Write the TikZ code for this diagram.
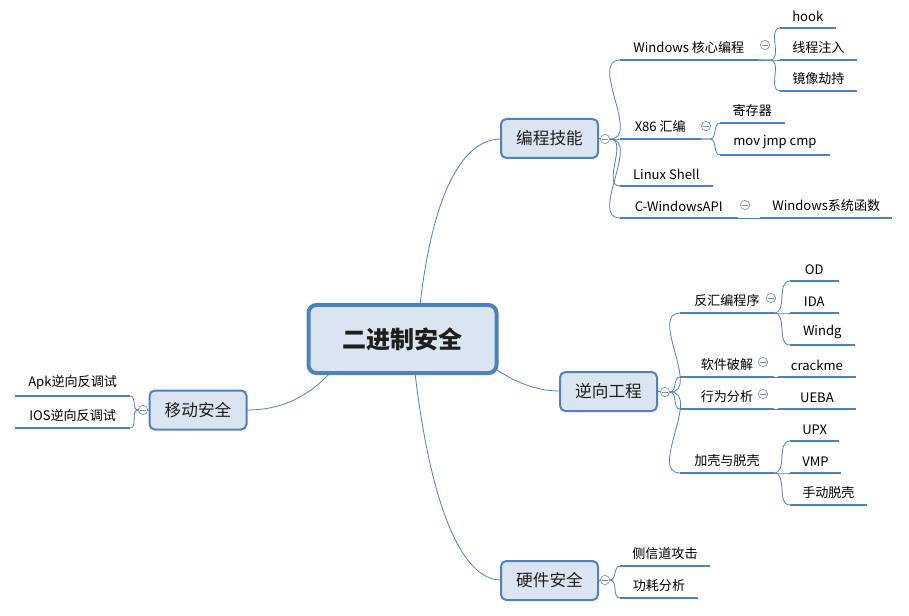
\documentclass[tikz,border=0pt]{standalone}
\usepackage{fontspec}
\setmainfont{Noto Sans CJK SC}
\definecolor{bl}{RGB}{79,129,189}
\definecolor{tg}{RGB}{120,150,190}
\definecolor{bf}{RGB}{219,229,241}
\definecolor{tx}{RGB}{30,30,30}
\begin{document}
\begin{tikzpicture}[x=0.75pt,y=-0.75pt,
  box/.style={draw=bl,line width=1.5pt,fill=bf,rounded corners=4pt,minimum width=72.75pt,minimum height=29.25pt,inner sep=0pt,font=\fontsize{12.5}{14}\selectfont,text=tx},
  leaf/.style={anchor=south west,inner xsep=9pt,inner ysep=4.5pt,align=left,font=\fontsize{9.8}{11}\selectfont},
  ul/.style={draw=bl,line width=2.2pt},
  br/.style={draw=bl,line width=0.6pt},
  tog/.style={circle,draw=tg,line width=0.5pt,fill=white,minimum size=7pt,inner sep=0pt,path picture={\draw[tg,line width=0.5pt] ([xshift=-2pt]path picture bounding box.center)--([xshift=2pt]path picture bounding box.center);}}]
\useasboundingbox (0,0) rectangle (909,616);
\fill[white] (0,0) rectangle (909,616);
\draw[br] (420,305) .. controls (432,200) and (460,139) .. (501,139);
\draw[br] (415,373) .. controls (430,500) and (460,580) .. (501,580);
\draw[br] (497,370) .. controls (520,385) and (540,391) .. (560,391);
\draw[br] (330,373) .. controls (300,405) and (270,410) .. (246,410);
% central
\node[box,line width=3pt,rounded corners=6pt,minimum width=141pt,minimum height=51pt,font=\fontsize{18}{20}\selectfont\bfseries] (c) at (402.5,339) {二进制安全};
\node[box] (p) at (549.5,138.5) {编程技能};
\node[box] (r) at (608.5,391.5) {逆向工程};
\node[box] (h) at (549.5,580.5) {硬件安全};
\node[box] (m) at (198,410) {移动安全};
\node[tog] (tp) at (605,139) {};
\node[tog] (tr) at (665,392) {};
\node[tog] (th) at (605,580) {};
\node[tog] (tm) at (143,410) {};
\draw[br] (p.east)--(tp); \draw[br] (r.east)--(tr); \draw[br] (h.east)--(th); \draw[br] (m.west)--(tm);
% programming leaves
\node[leaf,minimum width=102.75pt] (w) at (620,60) {Windows 核心编程};
\node[leaf,minimum width=60pt] (x) at (620,139) {X86 汇编};
\node[leaf,minimum width=69pt] (l) at (620,186) {Linux Shell};
\node[leaf,minimum width=87.75pt] (cw) at (620,218) {C-WindowsAPI};
\foreach \n in {w,x,l,cw}{\draw[ul] (\n.south west)--(\n.south east); \draw[br] (tp.east) to[out=0,in=180] (\n.south west);}
\node[tog] (tw) at (765,45) {};
\node[tog] (tx) at (706,126) {};
\node[tog] (tc) at (745,205) {};
\node[leaf,minimum width=41pt] (hk) at (780,28) {hook};
\node[leaf,minimum width=56pt] (xc) at (780,60) {线程注入};
\node[leaf,minimum width=56pt] (jx) at (780,91) {镜像劫持};
\foreach \n in {hk,xc,jx}{\draw[ul] (\n.south west)--(\n.south east); \draw[br] (w.south east) -- (770,60) to[out=0,in=180] (\n.south west);}
\node[leaf,minimum width=48pt] (jc) at (720,123) {寄存器};
\node[leaf,minimum width=82pt] (mv) at (720,155) {mov jmp cmp};
\foreach \n in {jc,mv}{\draw[ul] (\n.south west)--(\n.south east); \draw[br] (x.south east) -- (710,139) to[out=0,in=180] (\n.south west);}
\node[leaf,minimum width=97pt] (ws) at (760,218) {Windows系统函数};
\draw[ul] (ws.south west)--(ws.south east); \draw[br] (cw.south east)--(ws.south west);
% reverse leaves
\node[leaf,minimum width=70pt] (fh) at (680,313) {反汇编程序};
\node[leaf,minimum width=70pt] (rj) at (680,377) {软件破解};
\node[leaf,minimum width=70pt] (xw) at (680,409) {行为分析};
\node[leaf,minimum width=70pt] (jk) at (680,473) {加壳与脱壳};
\foreach \n in {fh,rj,xw,jk}{\draw[ul] (\n.south west)--(\n.south east); \draw[br] (tr.east) to[out=0,in=180] (\n.south west);}
\node[tog] (tf) at (771,298) {};
\node[tog] (trj) at (763,362) {};
\node[tog] (txw) at (763,394) {};
\node[leaf,minimum width=36pt] (od) at (790,281) {OD};
\node[leaf,minimum width=36pt] (ida) at (790,313) {IDA};
\node[leaf,minimum width=48pt] (wg) at (790,345) {Windg};
\foreach \n in {od,ida,wg}{\draw[ul] (\n.south west)--(\n.south east); \draw[br] (fh.south east) to[out=0,in=180] (\n.south west);}
\node[leaf,minimum width=58pt] (ck) at (778,377) {crackme};
\node[leaf,minimum width=58pt] (ue) at (778,409) {UEBA};
\draw[ul] (ck.south west)--(ck.south east); \draw[br] (rj.south east)--(ck.south west);
\draw[ul] (ue.south west)--(ue.south east); \draw[br] (xw.south east)--(ue.south west);
\node[leaf,minimum width=36pt] (upx) at (790,441) {UPX};
\node[leaf,minimum width=36pt] (vmp) at (790,473) {VMP};
\node[leaf,minimum width=56pt] (sd) at (790,505) {手动脱壳};
\foreach \n in {upx,vmp,sd}{\draw[ul] (\n.south west)--(\n.south east); \draw[br] (jk.south east) to[out=0,in=180] (\n.south west);}
% hardware
\node[leaf,minimum width=58pt] (cx) at (620,566) {侧信道攻击};
\node[leaf,minimum width=58pt] (gh) at (620,598) {功耗分析};
\foreach \n in {cx,gh}{\draw[ul] (\n.south west)--(\n.south east); \draw[br] (th.east) to[out=0,in=180] (\n.south west);}
% mobile
\node[leaf,minimum width=86pt] (apk) at (15,396) {Apk逆向反调试};
\node[leaf,minimum width=86pt] (ios) at (15,428) {IOS逆向反调试};
\foreach \n in {apk,ios}{\draw[ul] (\n.south west)--(\n.south east); \draw[br] (tm.west) to[out=180,in=0] (\n.south east);}
\end{tikzpicture}
\end{document}
